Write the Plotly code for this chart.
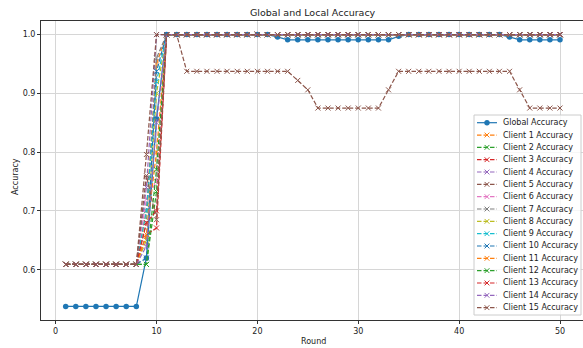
import plotly.graph_objects as go

rounds = list(range(1, 51))

global_acc = [0.5375, 0.5375, 0.5375, 0.5375, 0.5375, 0.5375, 0.5375, 0.5375, 0.62, 0.857,
              1.0, 1.0, 1.0, 1.0, 1.0, 1.0, 1.0, 1.0, 1.0, 1.0,
              1.0, 0.996, 0.991, 0.991, 0.991, 0.991, 0.991, 0.991, 0.991, 0.991,
              0.991, 0.991, 0.991, 0.997, 1.0, 1.0, 1.0, 1.0, 1.0, 1.0,
              1.0, 1.0, 1.0, 1.0, 0.996, 0.991, 0.991, 0.991, 0.991, 0.991]

ONE40 = [1.0, 1.0, 1.0, 1.0, 1.0, 1.0, 1.0, 1.0, 1.0, 1.0,
         1.0, 1.0, 1.0, 1.0, 1.0, 1.0, 1.0, 1.0, 1.0, 1.0,
         1.0, 1.0, 1.0, 1.0, 1.0, 1.0, 1.0, 1.0, 1.0, 1.0,
         1.0, 1.0, 1.0, 1.0, 1.0, 1.0, 1.0, 1.0, 1.0, 1.0]
START8 = [0.609, 0.609, 0.609, 0.609, 0.609, 0.609, 0.609, 0.609]

client_01 = START8 + [0.70, 0.95] + ONE40
client_02 = START8 + [0.609, 0.733] + ONE40
client_03 = START8 + [0.66, 0.671] + ONE40
client_04 = START8 + [0.74, 1.0] + ONE40
client_05 = [0.609, 0.609, 0.609, 0.609, 0.609, 0.609, 0.609, 0.609, 0.796, 1.0,
             1.0, 1.0, 0.9375, 0.9375, 0.9375, 0.9375, 0.9375, 0.9375, 0.9375, 0.9375,
             0.9375, 0.9375, 0.9375, 0.922, 0.906, 0.875, 0.875, 0.875, 0.875, 0.875,
             0.875, 0.875, 0.906, 0.9375, 0.9375, 0.9375, 0.9375, 0.9375, 0.9375, 0.9375,
             0.9375, 0.9375, 0.9375, 0.9375, 0.9375, 0.906, 0.875, 0.875, 0.875, 0.875]
client_06 = START8 + [0.72, 0.75] + ONE40
client_07 = START8 + [0.68, 0.96] + ONE40
client_08 = START8 + [0.65, 0.90] + ONE40
client_09 = START8 + [0.70, 0.92] + ONE40
client_10 = START8 + [0.62, 0.9375] + ONE40
client_11 = START8 + [0.66, 0.80] + ONE40
client_12 = START8 + [0.609, 0.77] + ONE40
client_13 = START8 + [0.68, 0.70] + ONE40
client_14 = START8 + [0.64, 0.85] + ONE40
client_15 = START8 + [0.76, 0.685] + ONE40

clients = [client_01, client_02, client_03, client_04, client_05, client_06, client_07,
           client_08, client_09, client_10, client_11, client_12, client_13, client_14, client_15]
global_name = "Global Accuracy"
client_names = ["Client %d Accuracy" % (i + 1) for i in range(15)]

tab10 = ["#1f77b4", "#ff7f0e", "#2ca02c", "#d62728", "#9467bd",
         "#8c564b", "#e377c2", "#7f7f7f", "#bcbd22", "#17becf"]

x_ticks = [0, 10, 20, 30, 40, 50]
y_ticks = [0.6, 0.7, 0.8, 0.9, 1.0]

FONT = "DejaVu Sans"
DASH = "4.5px,2px"
W, H = 583, 348
ML, MR, MT, MB = 41, 0, 21, 28
PW, PH = W - ML - MR, H - MT - MB

fig = go.Figure()
fig.add_trace(go.Scatter(
    x=rounds, y=global_acc, name=global_name, mode="lines+markers",
    line=dict(color=tab10[0], width=1.2),
    marker=dict(symbol="circle", size=5.5, color=tab10[0]),
))
for i, (vals, nm) in enumerate(zip(clients, client_names)):
    c = tab10[(i + 1) % 10]
    fig.add_trace(go.Scatter(
        x=rounds, y=vals, name=nm, mode="lines+markers",
        line=dict(color=c, width=1.2, dash=DASH),
        marker=dict(symbol="x-thin", size=5, color=c, line=dict(color=c, width=1)),
    ))

# ---- custom compact legend (matplotlib-like spacing) ----
def px(xp):
    return (xp - ML) / PW

def py(yp):
    return (MT + PH - yp) / PH

shapes = []
annotations = []
box_l, box_r, box_t, box_b = 474, 581, 115, 315
shapes.append(dict(type="rect", xref="paper", yref="paper", layer="above",
                   x0=px(box_l), x1=px(box_r), y0=py(box_b), y1=py(box_t),
                   fillcolor="rgba(255,255,255,0.8)", line=dict(color="#cccccc", width=1)))
entries = [(global_name, tab10[0], "solid", "circle")] + \
          [(nm, tab10[(i + 1) % 10], DASH, "x") for i, nm in enumerate(client_names)]
for k, (nm, c, dash, sym) in enumerate(entries):
    yc = 122.7 + 12.33 * k
    shapes.append(dict(type="line", xref="paper", yref="paper", layer="above",
                       x0=px(477), x1=px(497), y0=py(yc), y1=py(yc),
                       line=dict(color=c, width=1.2, dash=dash)))
    if sym == "circle":
        r = 2.7
        shapes.append(dict(type="circle", xref="paper", yref="paper", layer="above",
                           x0=px(487 - r), x1=px(487 + r), y0=py(yc + r), y1=py(yc - r),
                           fillcolor=c, line=dict(color=c, width=0)))
    else:
        r = 2.4
        shapes.append(dict(type="line", xref="paper", yref="paper", layer="above",
                           x0=px(487 - r), x1=px(487 + r), y0=py(yc - r), y1=py(yc + r),
                           line=dict(color=c, width=1)))
        shapes.append(dict(type="line", xref="paper", yref="paper", layer="above",
                           x0=px(487 - r), x1=px(487 + r), y0=py(yc + r), y1=py(yc - r),
                           line=dict(color=c, width=1)))
    annotations.append(dict(text=nm, xref="paper", yref="paper", x=px(500.5), y=py(yc),
                            xanchor="left", yanchor="middle", showarrow=False,
                            font=dict(family=FONT, size=8, color="#222222")))

annotations += [
    dict(text="Global and Local Accuracy", xref="paper", yref="paper",
         x=px(313), y=py(12), xanchor="center", yanchor="middle",
         showarrow=False, font=dict(family=FONT, size=9.5, color="#222222")),
    dict(text="Round", xref="paper", yref="paper", x=px(313), y=py(341),
         xanchor="center", yanchor="middle", showarrow=False,
         font=dict(family=FONT, size=8, color="#222222")),
    dict(text="Accuracy", xref="paper", yref="paper", x=px(15), y=py(177),
         xanchor="center", yanchor="middle", textangle=-90, showarrow=False,
         font=dict(family=FONT, size=8, color="#222222")),
]

axis_common = dict(
    showgrid=True, gridcolor="#d6d6d6", gridwidth=1,
    showline=True, linecolor="#333333", linewidth=1, mirror=True,
    ticks="outside", ticklen=3, tickcolor="#333333", tickwidth=1,
    zeroline=False, tickfont=dict(family=FONT, size=8, color="#222222"),
)

fig.update_layout(
    width=W, height=H,
    margin=dict(l=ML, r=MR, t=MT, b=MB),
    paper_bgcolor="white", plot_bgcolor="white",
    font=dict(family=FONT, size=8, color="#222222"),
    xaxis=dict(range=[-1.45, 52.28], tickvals=x_ticks, **axis_common),
    yaxis=dict(range=[0.5144, 1.0231], tickvals=y_ticks, tickformat=".1f", **axis_common),
    showlegend=False,
    hovermode=False,
    shapes=shapes,
    annotations=annotations,
)

fig.write_html("out.html",
               config={"displayModeBar": False, "staticPlot": True},
               post_script="document.body.style.margin='0';document.body.style.overflow='hidden';")
